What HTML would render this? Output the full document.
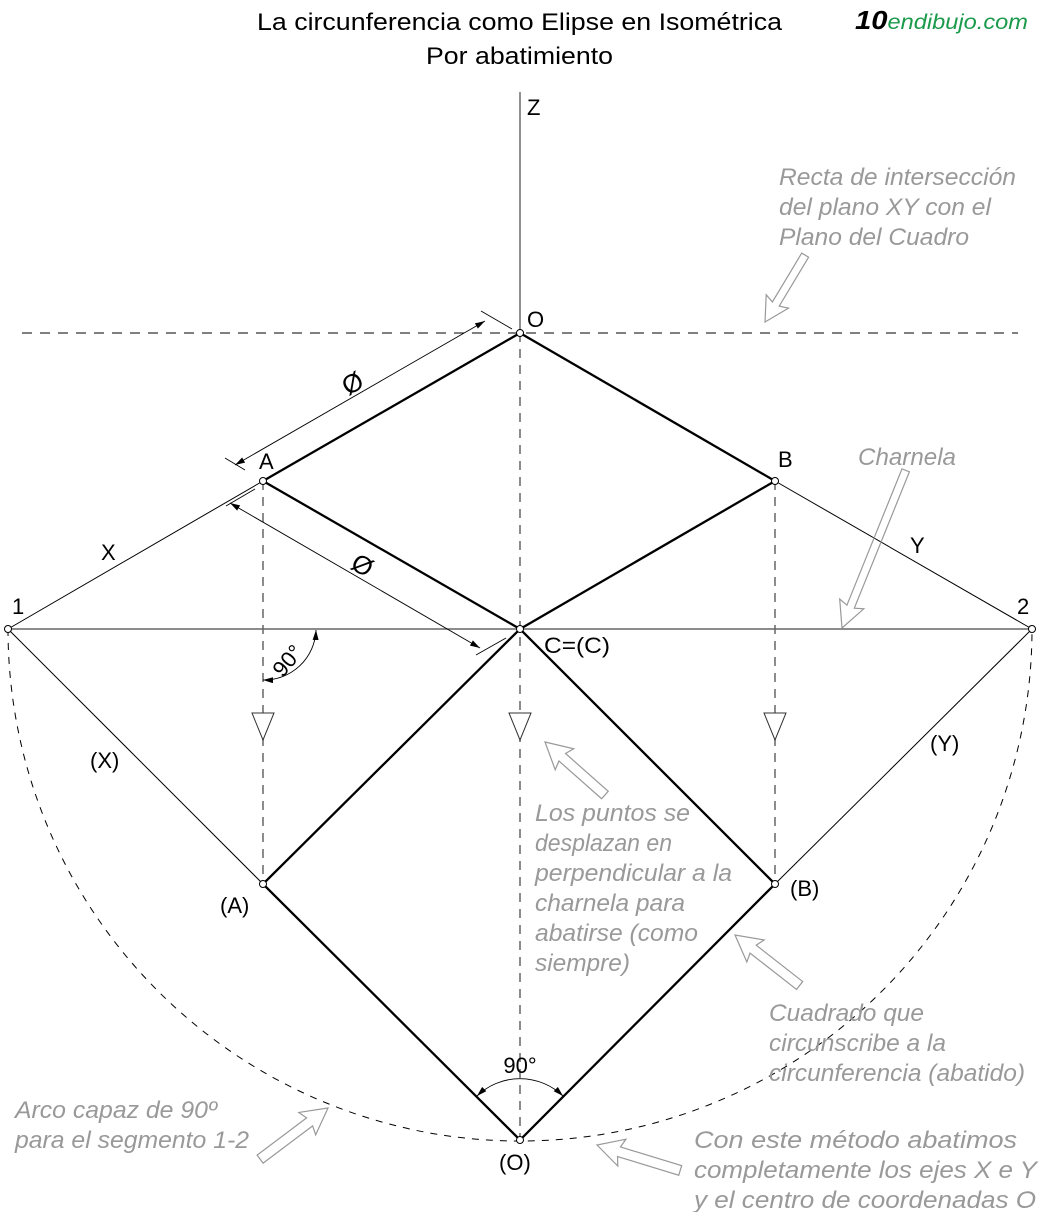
<!DOCTYPE html>
<html><head><meta charset="utf-8"><style>
html,body{margin:0;padding:0;background:#fff}
svg{display:block}
text{font-family:"Liberation Sans",sans-serif}
.g{fill:#999;font-style:italic;font-size:24px}
.k{fill:#000;font-size:22px}
.arr{fill:none;stroke:#999;stroke-width:1.2}
</style></head><body>
<svg width="1039" height="1212" viewBox="0 0 1039 1212" xmlns="http://www.w3.org/2000/svg">
<rect width="1039" height="1212" fill="#fff"/>
<defs>
<marker id="ah" viewBox="0 0 10 6" refX="10" refY="3" markerWidth="10" markerHeight="6" orient="auto-start-reverse" markerUnits="userSpaceOnUse"><path d="M0,0 L10,3 L0,6 Z" fill="#000"/></marker>
</defs>
<text x="257" y="30" font-size="24" fill="#000" textLength="525" lengthAdjust="spacingAndGlyphs">La circunferencia como Elipse en Isométrica</text>
<text x="426" y="64" font-size="24" fill="#000" textLength="187" lengthAdjust="spacingAndGlyphs">Por abatimiento</text>
<text x="855" y="29" font-size="26" font-style="italic" font-weight="bold" font-family="Liberation Serif" fill="#000" textLength="173" lengthAdjust="spacingAndGlyphs">10<tspan fill="#1a9a4a" font-size="21" font-weight="normal">endibujo.com</tspan></text>

<line x1="520" y1="92" x2="520" y2="333" stroke="#555" stroke-width="1.3"/>
<text x="527" y="115" class="k">Z</text>
<line x1="22" y1="333" x2="1018" y2="333" stroke="#000" stroke-width="1" stroke-dasharray="10,8"/>
<line x1="8" y1="629" x2="1032" y2="629" stroke="#666" stroke-width="1.5"/>
<line x1="8" y1="629" x2="263" y2="481" stroke="#000" stroke-width="1"/>
<line x1="775" y1="481" x2="1032" y2="629" stroke="#000" stroke-width="1"/>
<line x1="8" y1="629" x2="263" y2="884" stroke="#000" stroke-width="1"/>
<line x1="1032" y1="629" x2="775" y2="884" stroke="#000" stroke-width="1"/>
<path d="M8,629 A512,512 0 0 0 1032,629" fill="none" stroke="#000" stroke-width="1" stroke-dasharray="7,7"/>
<polygon points="520,333 775,481 520,629 263,481" fill="none" stroke="#000" stroke-width="2.3"/>
<polygon points="520,629 775,884 520,1140 263,884" fill="none" stroke="#000" stroke-width="2.3"/>
<g stroke="#666" stroke-width="1.5" stroke-dasharray="9,7">
<line x1="263" y1="481" x2="263" y2="884"/>
<line x1="520" y1="333" x2="520" y2="1140"/>
<line x1="775" y1="481" x2="775" y2="884"/>
</g>
<g fill="#fff" stroke="#333" stroke-width="1">
<polygon points="252,713 274,713 263,740"/>
<polygon points="509,713 531,713 520,740"/>
<polygon points="764,713 786,713 775,740"/>
</g>
<g stroke="#000" stroke-width="0.9" fill="none">
<line x1="235" y1="465" x2="485" y2="321" marker-start="url(#ah)" marker-end="url(#ah)"/>
<line x1="225" y1="458" x2="245" y2="470"/>
<line x1="481" y1="311" x2="512" y2="329"/>
<line x1="230" y1="503" x2="480" y2="648" marker-start="url(#ah)" marker-end="url(#ah)"/>
<line x1="226" y1="506" x2="255" y2="489"/>
<line x1="476" y1="655" x2="506" y2="638"/>
<path d="M263,680 A52,52 0 0 0 316,630" marker-start="url(#ah)" marker-end="url(#ah)"/>
<path d="M477,1096 A62,62 0 0 1 563,1096" marker-start="url(#ah)" marker-end="url(#ah)"/>
</g>
<text x="353" y="392" font-size="26" text-anchor="middle" transform="rotate(-30 353 384)">Ø</text>
<text x="362" y="574" font-size="26" text-anchor="middle" transform="rotate(30 362 566)">Ø</text>
<text x="288" y="668" class="k" text-anchor="middle" transform="rotate(-50 288 661)">90°</text>
<text x="520" y="1073" class="k" text-anchor="middle">90°</text>
<g fill="#fff" stroke="#000" stroke-width="1">
<circle cx="520" cy="333" r="3.5"/><circle cx="263" cy="481" r="3.5"/><circle cx="775" cy="481" r="3.5"/>
<circle cx="520" cy="629" r="3.5"/><circle cx="8" cy="629" r="3.5"/><circle cx="1032" cy="629" r="3.5"/>
<circle cx="263" cy="884" r="3.5"/><circle cx="775" cy="884" r="3.5"/><circle cx="520" cy="1140" r="3.5"/>
</g>
<text x="527" y="327" class="k">O</text>
<text x="259" y="469" class="k">A</text>
<text x="778" y="467" class="k">B</text>
<text x="12" y="614" class="k">1</text>
<text x="1017" y="614" class="k">2</text>
<text x="101" y="560" class="k">X</text>
<text x="910" y="553" class="k">Y</text>
<text x="544" y="653" class="k" textLength="66" lengthAdjust="spacingAndGlyphs">C=(C)</text>
<text x="90" y="768" class="k">(X)</text>
<text x="930" y="751" class="k">(Y)</text>
<text x="220" y="913" class="k">(A)</text>
<text x="790" y="896" class="k">(B)</text>
<text x="499" y="1170" class="k">(O)</text>
<g class="g">
<text x="779" y="185" textLength="237" lengthAdjust="spacingAndGlyphs">Recta de intersección</text>
<text x="779" y="215" textLength="212" lengthAdjust="spacingAndGlyphs">del plano XY con el</text>
<text x="779" y="245" textLength="190" lengthAdjust="spacingAndGlyphs">Plano del Cuadro</text>
<text x="858" y="465" textLength="98" lengthAdjust="spacingAndGlyphs">Charnela</text>
<text x="535" y="821" textLength="155" lengthAdjust="spacingAndGlyphs">Los puntos se</text>
<text x="535" y="851" textLength="137" lengthAdjust="spacingAndGlyphs">desplazan en</text>
<text x="535" y="881" textLength="197" lengthAdjust="spacingAndGlyphs">perpendicular a la</text>
<text x="535" y="911" textLength="150" lengthAdjust="spacingAndGlyphs">charnela para</text>
<text x="535" y="941" textLength="163" lengthAdjust="spacingAndGlyphs">abatirse (como</text>
<text x="535" y="971" textLength="95" lengthAdjust="spacingAndGlyphs">siempre)</text>
<text x="769" y="1021" textLength="155" lengthAdjust="spacingAndGlyphs">Cuadrado que</text>
<text x="769" y="1051" textLength="177" lengthAdjust="spacingAndGlyphs">circunscribe a la</text>
<text x="769" y="1081" textLength="256" lengthAdjust="spacingAndGlyphs">circunferencia (abatido)</text>
<text x="15" y="1118" textLength="202" lengthAdjust="spacingAndGlyphs">Arco capaz de 90º</text>
<text x="15" y="1148" textLength="234" lengthAdjust="spacingAndGlyphs">para el segmento 1-2</text>
<text x="694" y="1148" textLength="323" lengthAdjust="spacingAndGlyphs">Con este método abatimos</text>
<text x="694" y="1178" textLength="343" lengthAdjust="spacingAndGlyphs">completamente los ejes X e Y</text>
<text x="694" y="1208" textLength="342" lengthAdjust="spacingAndGlyphs">y el centro de coordenadas O</text>
</g>
<g class="arr">
<polygon transform="translate(765,322) rotate(121)" points="0,0 -24,-13 -21,-4 -78,-4 -78,4 -21,4 -24,13"/>
<polygon transform="translate(842,628) rotate(112)" points="0,0 -26,-13 -23,-4 -170,-4 -170,4 -23,4 -26,13"/>
<polygon transform="translate(545,742) rotate(-138.5)" points="0,0 -26,-14 -23,-5 -80,-5 -80,5 -23,5 -26,14"/>
<polygon transform="translate(735,935) rotate(-142)" points="0,0 -26,-14 -23,-5 -82,-5 -82,5 -23,5 -26,14"/>
<polygon transform="translate(328,1108) rotate(-37)" points="0,0 -26,-14 -23,-5 -85,-5 -85,5 -23,5 -26,14"/>
<polygon transform="translate(597,1145) rotate(-163)" points="0,0 -26,-14 -23,-5 -87,-5 -87,5 -23,5 -26,14"/>
</g>
</svg>
</body></html>
